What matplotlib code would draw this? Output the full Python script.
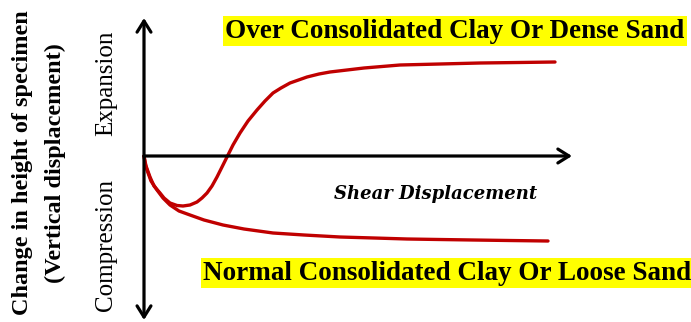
import matplotlib.pyplot as plt
import numpy as np

# curve readings, relative to the origin where the two axes cross
dense_x = [0, 2, 6, 10, 16, 20, 26, 33, 39, 46, 53, 58, 63, 68, 73, 78, 83, 89, 96,
           104, 113, 121, 129, 137, 146, 163, 175, 186, 220, 256, 296, 336, 375, 411]
dense_y = [0, -10, -21, -30, -37, -42, -47, -49.5, -50, -49, -46, -42, -37, -30, -21,
           -11, -1, 11, 23, 35, 46, 55, 63, 68, 73, 79, 82, 84, 88, 91, 92, 93, 93.5, 94]
loose_x = [0, 1, 3, 7, 13, 19, 26, 35, 46, 60, 79, 100, 129, 160, 196, 230, 263,
           295, 329, 365, 404]
loose_y = [0, -7, -14, -25, -34, -42, -49, -55, -59, -64, -69, -73, -77, -79, -81,
           -82, -83, -83.5, -84, -84.5, -85]

top_label = "Over Consolidated Clay Or Dense Sand"
bottom_label = "Normal Consolidated Clay Or Loose Sand"
x_label = "Shear Displacement"
y_label1 = "Change in height of specimen"
y_label2 = "(Vertical displacement)"

red = "#c00000"
serif = "Liberation Serif"

fig = plt.figure(figsize=(6.91, 3.22), dpi=100)
ax = fig.add_axes([0, 0, 1, 1])
ax.set_xlim(-144, 547)
ax.set_ylim(-166, 156)
ax.axis("off")

ax.plot(np.array(dense_x), np.array(dense_y), color=red, lw=2.4,
        solid_capstyle="round", solid_joinstyle="round")
ax.plot(np.array(loose_x), np.array(loose_y), color=red, lw=2.4,
        solid_capstyle="round", solid_joinstyle="round")

arrow = dict(arrowstyle="<->,head_length=0.8,head_width=0.5", lw=2.3, color="black",
             shrinkA=0, shrinkB=0)
ax.annotate("", xy=(0, 138), xytext=(0, -164), arrowprops=arrow)
ax.annotate("", xy=(428, 0), xytext=(0, 0),
            arrowprops=dict(arrow, arrowstyle="->,head_length=0.8,head_width=0.5"))

box = dict(facecolor="#ffff00", edgecolor="none", pad=1.5)
ax.text(311, 125, top_label, fontsize=19.5, fontweight="bold", family=serif,
        ha="center", va="center", bbox=box)
ax.text(303, -117, bottom_label, fontsize=19.5, fontweight="bold", family=serif,
        ha="center", va="center", bbox=box)
ax.text(292, -38, x_label, fontsize=13, fontweight="bold", style="italic",
        family="DejaVu Serif", ha="center", va="center")

ax.text(-38, 73, "Expansion", fontsize=18, family=serif, rotation=90,
        ha="center", va="center")
ax.text(-38, -89, "Compression", fontsize=18, family=serif, rotation=90,
        ha="center", va="center")
ax.text(-121, -7, y_label1, fontsize=17.5, fontweight="bold", family=serif, rotation=90,
        ha="center", va="center")
ax.text(-89, -7, y_label2, fontsize=17.5, fontweight="bold", family=serif, rotation=90,
        ha="center", va="center")

plt.savefig("out.png", dpi=100)
